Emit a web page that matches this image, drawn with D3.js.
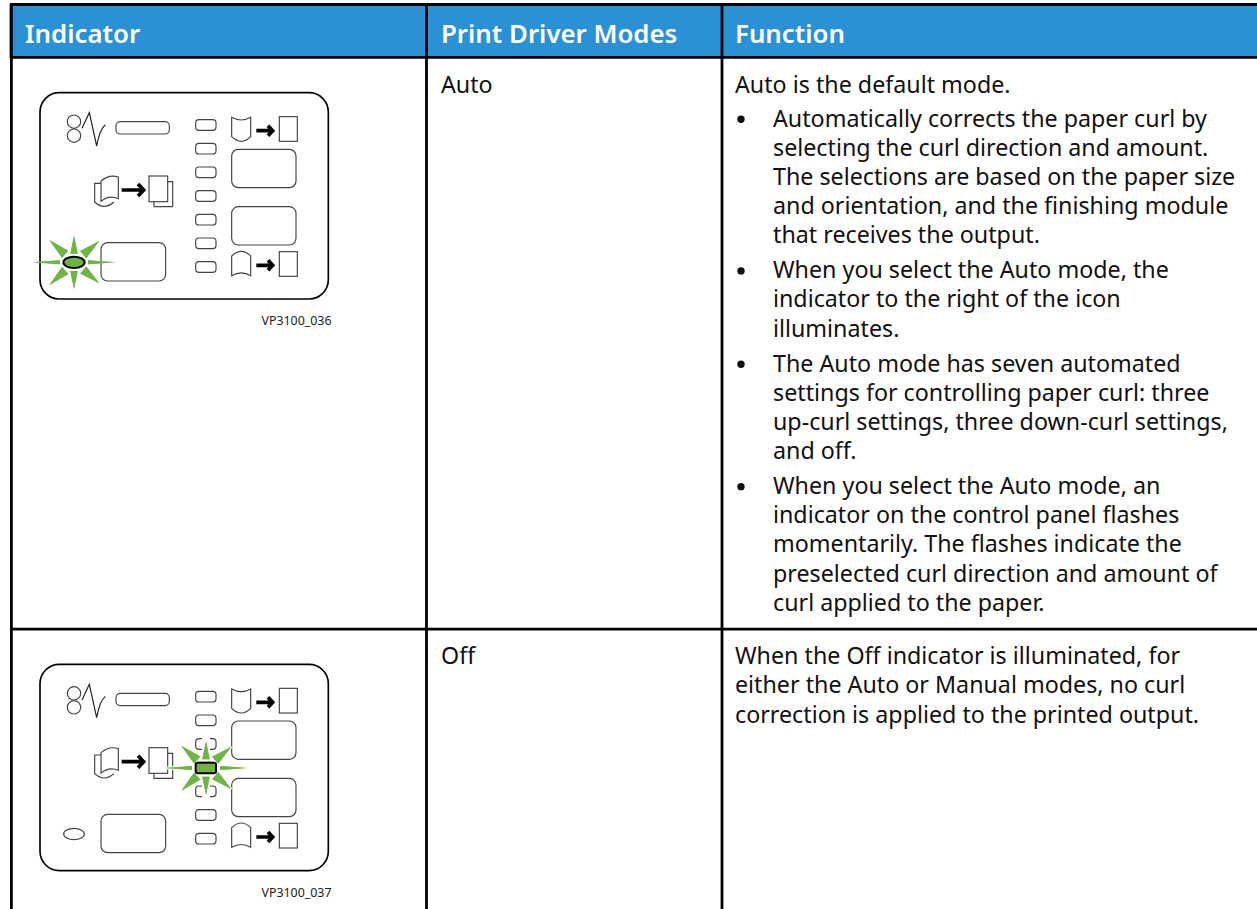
<!DOCTYPE html>
<html>
<head>
<meta charset="utf-8">
<script src="https://cdnjs.cloudflare.com/ajax/libs/d3/7.8.5/d3.min.js"></script>
<style>
  body { margin:0; background:#fff; }
  text { font-family:"Noto Sans",sans-serif; }
</style>
</head>
<body>
<svg id="page" width="1257" height="909"></svg>
<script>
const headers = ["Indicator","Print Driver Modes","Function"]
const modes = ["Auto","Off"]
const figureCodes = ["VP3100_036","VP3100_037"]
const autoIntro = "Auto is the default mode."
const autoBullets = [
  ["Automatically corrects the paper curl by","selecting the curl direction and amount.","The selections are based on the paper size","and orientation, and the finishing module","that receives the output."],
  ["When you select the Auto mode, the","indicator to the right of the icon","illuminates."],
  ["The Auto mode has seven automated","settings for controlling paper curl: three","up-curl settings, three down-curl settings,","and off."],
  ["When you select the Auto mode, an","indicator on the control panel flashes","momentarily. The flashes indicate the","preselected curl direction and amount of","curl applied to the paper."]
]
const offLines = ["When the Off indicator is illuminated, for","either the Auto or Manual modes, no curl","correction is applied to the printed output."]
const ledRows = [0,1,2,3,4,5,6]

const svg = d3.select("#page")
const lineH = 29.15
const bulletH = 35
const bodySize = 23.25
const colX = [11.4,426.5,722]

//header band
svg.append("rect").attr("x",9.3).attr("y",4).attr("width",1248).attr("height",54).attr("fill","#2a91d6")

//text first
const heads = [25,441,735]
svg.selectAll("text.head").data(headers).enter().append("text")
  .attr("class","head")
  .attr("x",(d,i)=>heads[i]).attr("y",43.3)
  .attr("font-size",25.8).attr("font-weight",600).attr("fill","#fff")
  .text(d=>d)

svg.selectAll("text.mode").data(modes).enter().append("text")
  .attr("class","mode")
  .attr("x",441).attr("y",(d,i)=>i==0?92.7:664.3)
  .attr("font-size",bodySize).attr("fill","#111")
  .text(d=>d)

const body = svg.append("g").attr("fill","#111").attr("font-size",bodySize)
const addLine = (x,y,s)=> body.append("text").attr("x",x).attr("y",y).text(s)

let y = 92.7
addLine(735,y,autoIntro)
autoBullets.forEach((b,n)=>{
  y += n==0 ? 34 : bulletH
  body.append("circle").attr("cx",741).attr("cy",y-7.4).attr("r",3.7)
  b.forEach((s,i)=>{
    if(i>0) y += lineH
    addLine(773,y,s)
  })
})
offLines.forEach((s,i)=> addLine(735,664.3+i*lineH,s))

//table rules
const rules = svg.append("g").attr("stroke","#000")
rules.selectAll("line.v").data(colX).enter().append("line")
  .attr("class","v").attr("stroke-width",2.8)
  .attr("x1",d=>d).attr("x2",d=>d).attr("y1",3.3).attr("y2",909)
rules.selectAll("line.h").data([4.5,57.3,629.2]).enter().append("line")
  .attr("class","h").attr("stroke-width",2.8)
  .attr("x1",10).attr("x2",1257).attr("y1",d=>d).attr("y2",d=>d)

//the control panel, drawn in the 3x units it was measured in
const panel = (oy,code,lit)=>{
  const g = svg.append("g").attr("transform",`translate(0,${oy}) scale(${1/3})`)
    .attr("fill","none").attr("stroke","#444").attr("stroke-width",3.5)
  g.append("rect").attr("x",120).attr("y",68).attr("width",865).attr("height",619).attr("rx",58)
    .attr("stroke","#000").attr("stroke-width",5)
  //rollers and wave
  g.selectAll("circle.roll").data([155,197]).enter().append("circle").attr("class","roll")
    .attr("cx",222).attr("cy",d=>d).attr("r",20)
  g.append("path").attr("d","M246 175 L268 128 L290 228 C296 195 302 175 316 164").attr("stroke","#222")
  g.append("rect").attr("x",348).attr("y",155).attr("width",160).attr("height",37).attr("rx",13)
  //led column
  g.selectAll("rect.led").data(ledRows).enter().append("rect").attr("class","led")
    .attr("x",587).attr("y",d=>149+d*71).attr("width",61).attr("height",32).attr("rx",10)
  //big keys
  const keys = [[695,238],[695,410],[303,518]]
  g.selectAll("rect.key").data(keys).enter().append("rect").attr("class","key")
    .attr("x",d=>d[0]).attr("y",d=>d[1]).attr("width",d=>d[0]==695?193:194).attr("height",115).attr("rx",20)
  //up curl
  g.append("path").attr("d","M695 142 Q724 158 752 142 L752 200 Q724 228 695 200 Z")
  g.append("rect").attr("x",838).attr("y",140).attr("width",54).attr("height",74)
  //down curl
  g.append("path").attr("d","M695 558 Q724 530 752 558 L752 617 Q724 600 695 617 Z")
  g.append("rect").attr("x",838).attr("y",545).attr("width",54).attr("height",74)
  //stack
  g.append("path").attr("d","M303 333 Q328 312 355 321 L355 386 Q328 374 303 394 L303 333 M303 340 L284 340 L284 396 Q312 422 342 396")
  g.append("path").attr("d","M503 335 L518 335 L518 410 L462 410 L462 395")
  g.append("rect").attr("x",447).attr("y",318).attr("width",56).attr("height",77).attr("fill","#fff")
  //arrows
  const arrow = (x0,x1,cy,w)=>{
    g.append("path").attr("d",`M${x0} ${cy} H${x1-6} M${x1-w-7} ${cy-w-2} L${x1-6} ${cy} L${x1-w-7} ${cy+w+2}`)
      .attr("stroke","#000").attr("stroke-width",11)
  }
  arrow(769,824,182,13)
  arrow(769,824,586,13)
  arrow(365,437,360,16)

  //flashing indicator
  const cx = lit=="left" ? 222 : 618
  const cy = lit=="left" ? 577 : 379
  const rays = [[-124,0],[124,0],[0,-80],[0,80],[-74,-67],[76,-64],[-74,68],[76,63]]
  const rayPath = d=>{
    const L = Math.hypot(d[0],d[1])
    const ux = d[0]/L, uy = d[1]/L
    const flat = d[1]==0, upright = d[0]==0
    const start = flat ? 42 : (upright ? 26 : 36)
    const half = flat ? 6 : (upright ? 11 : 14)
    const bx = cx+ux*start, by = cy+uy*start
    return `M${cx+d[0]} ${cy+d[1]} L${bx-uy*half} ${by+ux*half} L${bx+uy*half} ${by-ux*half} Z`
  }
  if(lit=="mid"){
    //neighbours of the lit led are broken up by the flash
    g.selectAll("rect.gap").data([2,4]).enter().append("rect").attr("class","gap")
      .attr("x",606).attr("y",d=>145+d*71).attr("width",24).attr("height",40)
      .attr("fill","#fff").attr("stroke","none")
  }
  g.selectAll("path.ray").data(rays).enter().append("path").attr("class","ray")
    .attr("d",rayPath).attr("fill","#6fb544").attr("stroke","#fff").attr("stroke-width",lit=="mid"?7:0)
    .attr("paint-order","stroke")
  g.selectAll("path.ray2").data(rays).enter().append("path").attr("class","ray2")
    .attr("d",rayPath).attr("fill","#6fb544").attr("stroke","none")
  if(lit=="left"){
    g.append("ellipse").attr("cx",cx).attr("cy",cy).attr("rx",32).attr("ry",17)
      .attr("fill","#6fb544").attr("stroke","#000").attr("stroke-width",6)
  } else {
    g.append("rect").attr("x",587).attr("y",cy-16).attr("width",61).attr("height",32).attr("rx",6)
      .attr("fill","#6fb544").attr("stroke","#000").attr("stroke-width",6)
    g.append("ellipse").attr("cx",222).attr("cy",577).attr("rx",31).attr("ry",17)
  }
  svg.append("text").attr("x",331.5).attr("y",oy+255).attr("text-anchor","end")
    .attr("font-size",12.4).attr("fill","#222").text(code)
}
panel(70,figureCodes[0],"left")
panel(641.67,figureCodes[1],"mid")
</script>
</body>
</html>
